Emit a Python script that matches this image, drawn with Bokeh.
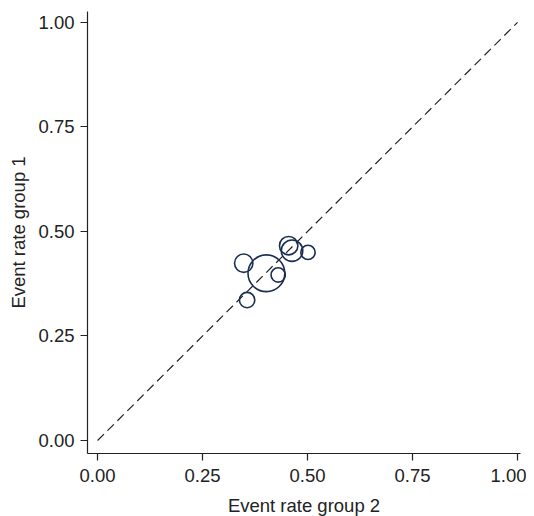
import numpy as np
from bokeh.plotting import figure
from bokeh.models import Range1d, FixedTicker, ColumnDataSource
from bokeh.embed import file_html
from bokeh.resources import INLINE

# Data
rate_group2 = [0.348, 0.402, 0.430, 0.356, 0.455, 0.463, 0.501]
rate_group1 = [0.424, 0.400, 0.396, 0.336, 0.466, 0.454, 0.450]
weight_pct = [10.8, 43.2, 6.5, 7.5, 10.8, 14.7, 6.5]
diag = [0.0, 1.0]
tick_values = [0.0, 0.25, 0.5, 0.75, 1.0]
tick_labels = {0.0: "0.00", 0.25: "0.25", 0.5: "0.50", 0.75: "0.75", 1.0: "1.00"}

sizes = 5.6 * np.sqrt(np.array(weight_pct))
src = ColumnDataSource(dict(x=rate_group2, y=rate_group1, s=sizes))

FONT = "Liberation Sans"
TXT = "#222222"
NAVY = "#1b2d52"

p = figure(frame_width=433, frame_height=442,
           x_range=Range1d(-0.024, 1.007), y_range=Range1d(-0.031, 1.026),
           output_backend="svg", toolbar_location=None,
           min_border_left=87, min_border_right=6,
           min_border_top=11, min_border_bottom=56)
p.outline_line_color = None
p.grid.visible = False
p.background_fill_color = "white"
p.border_fill_color = "white"

p.line(diag, diag, line_color="#222222", line_width=1.2, line_dash="9 5")
p.scatter("x", "y", size="s", source=src, fill_color=None,
          line_color=NAVY, line_width=1.6)

for ax in (p.xaxis[0], p.yaxis[0]):
    ax.ticker = FixedTicker(ticks=tick_values)
    ax.major_label_overrides = tick_labels
    ax.minor_tick_line_color = None
    ax.major_tick_in = 0
    ax.major_tick_out = 7
    ax.axis_line_color = "#222222"
    ax.axis_line_width = 1.2
    ax.major_tick_line_color = "#222222"
    ax.major_tick_line_width = 1.2
    ax.major_label_text_font = FONT
    ax.major_label_text_font_size = "18.5px"
    ax.major_label_text_color = TXT
    ax.axis_label_text_font = FONT
    ax.axis_label_text_font_size = "18.5px"
    ax.axis_label_text_font_style = "normal"
    ax.axis_label_text_color = TXT

p.xaxis.axis_label = "Event rate group 2"
p.yaxis.axis_label = "Event rate group 1"
p.xaxis.major_label_standoff = 8
p.yaxis.major_label_standoff = 6
p.xaxis.axis_label_standoff = 10
p.yaxis.axis_label_standoff = 6
p.yaxis.major_label_orientation = "horizontal"

open("out.html", "w").write(file_html(p, INLINE))
